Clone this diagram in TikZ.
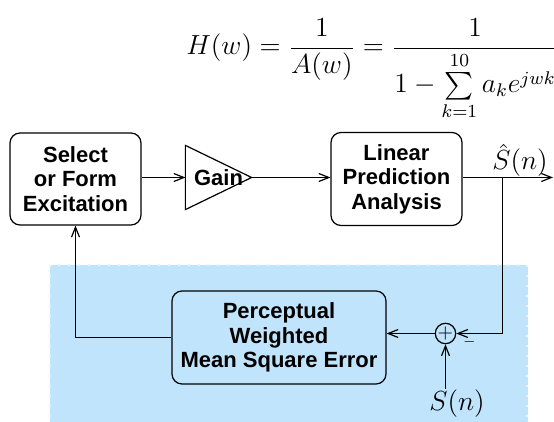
\documentclass[tikz,border=0pt]{standalone}
\usepackage{amsmath}
\usepackage{fontspec}
\setsansfont{Liberation Sans}
\usetikzlibrary{arrows.meta,calc}
\definecolor{errbg}{RGB}{192,228,252}

\begin{document}
\begin{tikzpicture}[x=0.5pt,y=-0.5pt,
    block/.style={rectangle,draw,rounded corners=5pt,align=center,inner sep=0pt,line width=0.6pt,font=\sffamily\bfseries\fontsize{11}{12.3}\selectfont},
    arrow/.style={-{Straight Barb[length=5pt,width=4pt]},line width=0.6pt},
    sumnode/.style={circle,draw,inner sep=0pt,minimum size=9pt,line width=0.6pt},
    mathlabel/.style={inner sep=0pt,font=\large,scale=1.15,transform shape}]
    \useasboundingbox (0,0) rectangle (554,422);
    % error weighting region
    \fill[errbg] (50,265) rectangle (528,422);
    \draw[errbg!40!white,line width=1pt,dash pattern=on 1pt off 4pt] (50.5,265.5) rectangle (527.5,423);
    % formula
    \node[mathlabel,anchor=base west] (hw) at (186,55) {$\displaystyle H(w)=\frac{1}{A(w)}=\frac{1}{1-\sum\limits_{k=1}^{10}a_ke^{jwk}}$};
    % forward path
    \node[block,minimum width=65.5pt,minimum height=46pt] (sel) at (75.5,179) {Select\\or Form\\Excitation};
    \node[block,draw=none,minimum width=32.5pt,minimum height=31.5pt] (gain) at (218.5,177.5) {Gain};
    \draw[line width=0.6pt] (gain.north west) -- (gain.east) -- (gain.south west) -- cycle;
    \node[block,minimum width=65.5pt,minimum height=46.5pt] (lp) at (396.5,179) {Linear\\Prediction\\Analysis};
    \coordinate (br) at (502.5,177.5);
    \coordinate (out) at (553,177.5);
    \node[mathlabel,anchor=base] (shat) at (520,170) {$\hat{S}(n)$};
    % feedback path
    \node[block,minimum width=107pt,minimum height=46.5pt] (perc) at (279,337.5) {Perceptual\\Weighted\\Mean Square Error};
    \node[sumnode] (sum) at (445.5,333.5) {$+$};
    \node[inner sep=0pt,font=\scriptsize] (minus) at (469.5,342) {$-$};
    \node[mathlabel,anchor=base] (sn) at (457,411) {$S(n)$};
    \draw[arrow] (sel.east |- gain.west) -- (gain.west);
    \draw[arrow] (gain.east) -- (gain.east -| lp.west);
    \draw[arrow] (gain.east -| lp.east) -- (out);
    \draw[arrow] (br) |- (sum);
    \draw[arrow] (sum) -- (sum -| perc.east);
    \draw[arrow] (perc.west) -| (sel.south);
    \draw[arrow] ($(sum |- sn.north)+(0,-1)$) -- (sum);
\end{tikzpicture}
\end{document}
